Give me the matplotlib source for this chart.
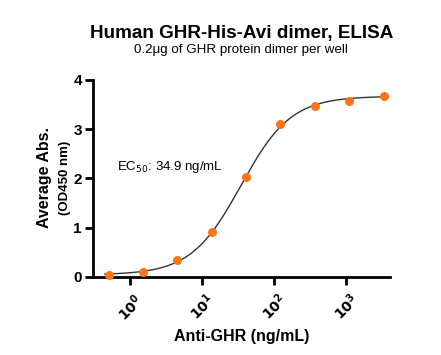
import numpy as np
import matplotlib
matplotlib.use("Agg")
import matplotlib.pyplot as plt

plt.rcParams['font.family'] = ['Liberation Sans', 'DejaVu Sans']

# Data
conc = [0.508, 1.524, 4.57, 13.72, 41.15, 123.5, 370.4, 1111.1, 3333.3]
absorb = [0.03, 0.10, 0.34, 0.92, 2.02, 3.11, 3.47, 3.58, 3.67]
ec50 = 34.9
title = "Human GHR-His-Avi dimer, ELISA"
subtitle = "0.2\u03bcg of GHR protein dimer per well"
xlabel = "Anti-GHR (ng/mL)"
ylabel1 = "Average Abs."
ylabel2 = "(OD450 nm)"
yticks = [0, 1, 2, 3, 4]
xticks = [1, 10, 100, 1000]

x = np.array(conc)
y = np.array(absorb)

# 4PL fit with fixed EC50: grid over Hill slope, linear LSQ for bottom/top
best = None
for h in np.linspace(0.5, 2.5, 401):
    f = 1.0 / (1.0 + (ec50 / x) ** h)
    A = np.vstack([1 - f, f]).T
    coef, *_ = np.linalg.lstsq(A, y, rcond=None)
    r = np.sum((A @ coef - y) ** 2)
    if best is None or r < best[0]:
        best = (r, h, coef)
_, hill, (bottom, top) = best
xs = np.logspace(np.log10(0.45), np.log10(3500), 400)
ys = bottom + (top - bottom) / (1 + (ec50 / xs) ** hill)

fig = plt.figure(figsize=(4.41, 3.55), dpi=100)
ax = fig.add_axes([0.211, 0.22, 0.673, 0.555])

ax.plot(xs, ys, color='#333333', lw=1.0, zorder=2)
ax.plot(x, y, 'o', color='#FF7417', ms=6.5, mec='none', zorder=3, clip_on=False)

ax.set_xscale('log')
ax.set_xlim(10 ** -0.51, 10 ** 3.61)
ax.set_ylim(0, 4)
ax.set_yticks(yticks)
ax.set_xticks(xticks)
ax.minorticks_off()
ax.set_xticklabels([r'$\mathbf{10^{%d}}$' % int(np.log10(t)) for t in xticks],
                   rotation=45, fontsize=10, fontweight='bold')
ax.set_yticklabels([str(t) for t in yticks], fontsize=11, fontweight='bold')

for s in ['top', 'right']:
    ax.spines[s].set_visible(False)
for s in ['left', 'bottom']:
    ax.spines[s].set_linewidth(2)
ax.tick_params(axis='both', width=2, length=6, direction='out', colors='black', pad=2)
ax.tick_params(axis='x', pad=4)

ax.set_xlabel(xlabel, fontsize=11.5, fontweight='bold', labelpad=4)
fig.text(0.10, 0.5, ylabel1, rotation=90, fontsize=11.5, fontweight='bold',
         ha='center', va='center')
fig.text(0.148, 0.5, ylabel2, rotation=90, fontsize=9.5, fontweight='bold',
         ha='center', va='center')

ax.text(0.08, 0.56, r'EC$_{50}$: %.1f ng/mL' % ec50, transform=ax.transAxes,
        fontsize=9.5, ha='left', va='center')

fig.text(0.547, 0.907, title, fontsize=13.6, fontweight='bold', ha='center', va='center')
fig.text(0.547, 0.859, subtitle, fontsize=9.6, ha='center', va='center')

fig.savefig('out.png', dpi=100)
